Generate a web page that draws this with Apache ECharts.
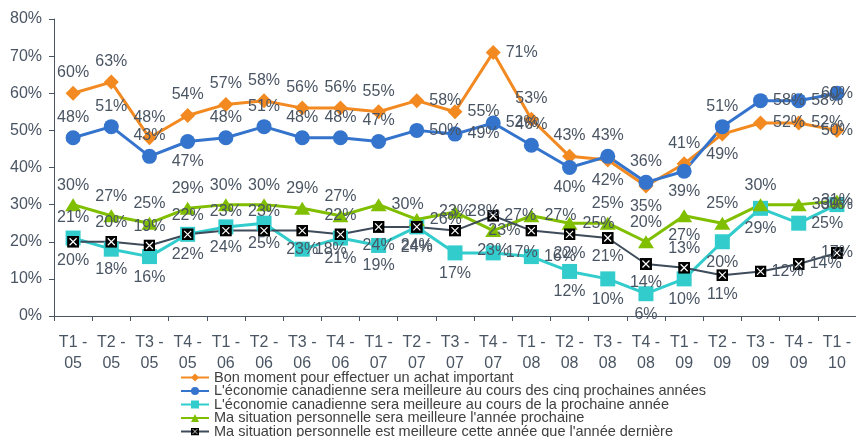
<!DOCTYPE html>
<html>
<head>
<meta charset="utf-8">
<script src="https://cdn.jsdelivr.net/npm/echarts@6/dist/echarts.min.js"></script>
<style>
html,body{margin:0;padding:0;background:#fff;}
#c{width:856px;height:437px;}
</style>
</head>
<body>
<div id="c"></div>
<script>
const quarters = ['T1 -\n05','T2 -\n05','T3 -\n05','T4 -\n05','T1 -\n06','T2 -\n06','T3 -\n06','T4 -\n06','T1 -\n07','T2 -\n07','T3 -\n07','T4 -\n07','T1 -\n08','T2 -\n08','T3 -\n08','T4 -\n08','T1 -\n09','T2 -\n09','T3 -\n09','T4 -\n09','T1 -\n10'];
const yTicks = [0,10,20,30,40,50,60,70,80];
const seriesNames = [
  'Bon moment pour effectuer un achat important',
  "L'économie canadienne sera meilleure au cours des cinq prochaines années",
  "L'économie canadienne sera meilleure au cours de la prochaine année",
  "Ma situation personnelle sera meilleure l'année prochaine",
  "Ma situation personnelle est meilleure cette année que l'année dernière"
];
const bonMoment = [60,63,48,54,57,58,56,56,55,58,55,71,53,43,42,35,41,49,52,52,50];
const econ5ans  = [48,51,43,47,48,51,48,48,47,50,49,52,46,40,43,36,39,51,58,58,60];
const econ1an   = [21,18,16,22,24,25,18,21,19,24,17,17,16,12,10,6,10,20,29,25,30];
const sitFuture = [30,27,25,29,30,30,29,27,30,26,28,23,27,25,25,20,27,25,30,30,31];
const sitNow    = [20,20,19,22,23,23,23,22,24,24,23,27,23,22,21,14,13,11,12,14,17];

// label placement (style, kept separate from values)
const posOrange = ['top','top','top','top','top','top','top','top','top','right','right','right','top','top','bottom','bottom','top','bottom','right','right','inside'];
const posBlue   = ['top','top','top','bottom','top','top','top','top','top','right','right','right','top','bottom','top','top','bottom','top','right','right','inside'];
const posCyan   = ['top','bottom','bottom','bottom','bottom','bottom','right','bottom','bottom','bottom','bottom','right','right','bottom','bottom','bottom','bottom','bottom','bottom','right','inside'];
const posGreen  = ['top','top','top','top','top','top','top','top','right','right','right','bottom','right','right','top','top','bottom','top','top','right','inside'];
const posBlack  = ['bottom','top','top','top','top','top','bottom','top','bottom','bottom','top','right','left','bottom','bottom','bottom','top','bottom','right','right','inside'];

const txt = '#4a5563';
const FONT = '"Liberation Sans", Arial, sans-serif';
const xMark = 'image://data:image/svg+xml;charset=utf-8,' + encodeURIComponent('<svg xmlns="http://www.w3.org/2000/svg" width="24" height="24" viewBox="0 0 24 24"><rect width="24" height="24" fill="#000"/><path d="M5 5L19 19M19 5L5 19" stroke="#fff" stroke-width="2.4"/></svg>');

function mk(vals, pos){
  return vals.map((v,i)=>({value:v, label:{position:pos[i]}}));
}
function ser(name, vals, pos, color, symbol, size, width){
  return {
    name, type:'line', data: mk(vals,pos),
    symbol, symbolSize:size, showAllSymbol:true,
    lineStyle:{color, width},
    itemStyle:{color, borderWidth:0},
    label:{show:true, formatter:'{c}%', color:txt, fontSize:16, fontFamily:FONT, distance:5},
    emphasis:{disabled:true}
  };
}

const chart = echarts.init(document.getElementById('c'), null, {renderer:'canvas'});
chart.setOption({
  animation:false,
  backgroundColor:'#fff',
  textStyle:{fontFamily:FONT},
  grid:{left:54, right:-6, top:19, bottom:121, containLabel:false},
  legend:{
    orient:'vertical', left:180, top:370, height:200, padding:0,
    itemWidth:28, itemHeight:10, itemGap:-1.5,
    textStyle:{color:'#404040', fontSize:14.5, lineHeight:13, fontFamily:FONT},
    data: seriesNames
  },
  xAxis:{
    type:'category', data:quarters, boundaryGap:true,
    axisLine:{lineStyle:{color:txt, width:1}},
    axisTick:{show:true, length:5, lineStyle:{color:txt}},
    axisLabel:{color:txt, fontSize:16, lineHeight:21, margin:16, interval:0, fontFamily:FONT}
  },
  yAxis:{
    type:'value', min:yTicks[0], max:yTicks[yTicks.length-1], interval:10,
    axisLine:{show:true, lineStyle:{color:txt, width:1}},
    axisTick:{show:true, length:5, lineStyle:{color:txt}},
    splitLine:{show:false},
    axisLabel:{color:txt, fontSize:16, margin:12, formatter:'{value}%', fontFamily:FONT}
  },
  series:[
    ser(seriesNames[0], bonMoment, posOrange, '#f28a21', 'diamond', [15,15], 3),
    ser(seriesNames[1], econ5ans, posBlue, '#3574cc', 'circle', 15, 3),
    ser(seriesNames[2], econ1an, posCyan, '#33cccc', 'rect', 15, 3),
    ser(seriesNames[3], sitFuture, posGreen, '#80bf00', 'triangle', [16,13], 3),
    ser(seriesNames[4], sitNow, posBlack, '#3d4b5a', xMark, 12, 2)
  ]
});
</script>
</body>
</html>
